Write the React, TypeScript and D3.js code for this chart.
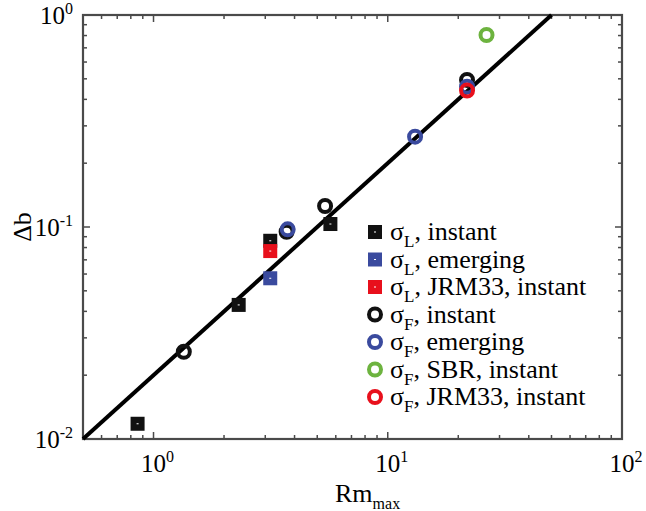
import React from "react";
import * as d3 from "d3";

const sLInstX = [0.855, 2.31, 3.15, 5.69];
const sLInstY = [0.0118, 0.0429, 0.0861, 0.1033];
const sLEmergX = [3.15];
const sLEmergY = [0.0573];
const sLJrmX = [3.15];
const sLJrmY = [0.077];
const sFInstX = [1.347, 3.7, 5.4, 21.8];
const sFInstY = [0.0258, 0.095, 0.1256, 0.494];
const sFEmergX = [3.74, 13.08, 21.8];
const sFEmergY = [0.0975, 0.2667, 0.459];
const sFSbrX = [26.4];
const sFSbrY = [0.805];
const sFJrmX = [21.8];
const sFJrmY = [0.44];

const fitCoef = 0.02;
const fitRange = [0.5, 50];

const xTickExps = [0, 1, 2];
const yTickExps = [-2, -1, 0];

const legendLabels = [
  { sym: "σ", sub: "L", rest: ", instant" },
  { sym: "σ", sub: "L", rest: ", emerging" },
  { sym: "σ", sub: "L", rest: ", JRM33, instant" },
  { sym: "σ", sub: "F", rest: ", instant" },
  { sym: "σ", sub: "F", rest: ", emerging" },
  { sym: "σ", sub: "F", rest: ", SBR, instant" },
  { sym: "σ", sub: "F", rest: ", JRM33, instant" },
];

const BLACK = "#111111";
const BLUE = "#3a4a9e";
const RED = "#e8101c";
const GREEN = "#6db33f";

const series = [
  { xs: sLInstX, ys: sLInstY, shape: "square", color: BLACK },
  { xs: sLEmergX, ys: sLEmergY, shape: "square", color: BLUE },
  { xs: sLJrmX, ys: sLJrmY, shape: "square", color: RED },
  { xs: sFInstX, ys: sFInstY, shape: "circle", color: BLACK },
  { xs: sFEmergX, ys: sFEmergY, shape: "circle", color: BLUE },
  { xs: sFSbrX, ys: sFSbrY, shape: "circle", color: GREEN },
  { xs: sFJrmX, ys: sFJrmY, shape: "circle", color: RED },
];

const L = 83, R = 622, T = 15, B = 439;
const AX = "#4a4a4a";
const FONT = "'Liberation Serif', 'Times New Roman', Times, serif";

function Marker({ shape, color, cx, cy }: any) {
  if (shape === "square") {
    return (
      <g>
        <rect x={cx - 7} y={cy - 7} width={14} height={14} fill={color} />
        <rect x={cx - 1} y={cy - 0.5} width={2} height={1} fill="#ffffff" />
      </g>
    );
  }
  return <circle cx={cx} cy={cy} r={6} fill="none" stroke={color} strokeWidth={4} />;
}

export default function App() {
  const x = d3.scaleLog().domain([0.5, 100]).range([L, R]);
  const y = d3.scaleLog().domain([0.01, 1]).range([B, T]);

  const majorX = xTickExps.map((e) => Math.pow(10, e));
  const majorY = yTickExps.map((e) => Math.pow(10, e));
  const minorX: number[] = [];
  for (let d = -1; d < 2; d++) for (let k = 2; k <= 9; k++) {
    const v = k * Math.pow(10, d);
    if (v > 0.5 && v < 100) minorX.push(v);
  }
  const minorY: number[] = [];
  for (let d = -2; d < 0; d++) for (let k = 2; k <= 9; k++) minorY.push(k * Math.pow(10, d));

  const line = d3.line<number>().x((v) => x(v)).y((v) => y(fitCoef * v));

  const legendX = 375;
  const legendY0 = 232;
  const legendDy = 27.5;

  return (
    <svg width={646} height={511} style={{ position: "absolute", left: 0, top: 0, background: "#fff", fontFamily: FONT }}>
      <rect width={646} height={511} fill="#fff" />
      <g stroke={AX} strokeWidth={1.5}>
        {minorX.map((v, i) => (
          <g key={"mx" + i}>
            <line x1={x(v)} x2={x(v)} y1={B} y2={B - 4} />
            <line x1={x(v)} x2={x(v)} y1={T} y2={T + 4} />
          </g>
        ))}
        {majorX.map((v, i) => (
          <g key={"Mx" + i}>
            <line x1={x(v)} x2={x(v)} y1={B} y2={B - 7} />
            <line x1={x(v)} x2={x(v)} y1={T} y2={T + 7} />
          </g>
        ))}
        {minorY.map((v, i) => (
          <g key={"my" + i}>
            <line x1={L} x2={L + 4} y1={y(v)} y2={y(v)} />
            <line x1={R} x2={R - 4} y1={y(v)} y2={y(v)} />
          </g>
        ))}
        {majorY.map((v, i) => (
          <g key={"My" + i}>
            <line x1={L} x2={L + 7} y1={y(v)} y2={y(v)} />
            <line x1={R} x2={R - 7} y1={y(v)} y2={y(v)} />
          </g>
        ))}
      </g>
      <rect x={L} y={T} width={R - L} height={B - T} fill="none" stroke={AX} strokeWidth={2.2} />

      <path d={line(fitRange) || ""} stroke="#000" strokeWidth={4} fill="none" />

      {series.map((s, si) =>
        s.xs.map((xv, i) => (
          <Marker key={si + "-" + i} shape={s.shape} color={s.color} cx={x(xv)} cy={y(s.ys[i])} />
        ))
      )}

      {xTickExps.map((e) => (
        <text key={"xl" + e} x={x(Math.pow(10, e)) + 4} y={472} fontSize={25} textAnchor="middle" fill="#000">
          10<tspan fontSize={16} dy={-10}>{e}</tspan>
        </text>
      ))}
      {yTickExps.map((e) => (
        <text key={"yl" + e} x={73} y={y(Math.pow(10, e)) + 9} fontSize={25} textAnchor="end" fill="#000">
          10<tspan fontSize={16} dy={-10}>{e < 0 ? "-" + Math.abs(e) : e}</tspan>
        </text>
      ))}

      <text x={335} y={502} fontSize={26} fill="#000">
        Rm<tspan fontSize={16} dy={7}>max</tspan>
      </text>
      <text transform={`translate(31, 227) rotate(-90)`} fontSize={26} textAnchor="middle" fill="#000">
        Δb
      </text>

      {legendLabels.map((lab, i) => {
        const cy = legendY0 + i * legendDy;
        const s = series[i];
        return (
          <g key={"lg" + i}>
            <Marker shape={s.shape} color={s.color} cx={legendX} cy={cy} />
            <text x={390} y={cy + 8} fontSize={26} fill="#000">
              {lab.sym}
              <tspan fontSize={17} dy={7}>{lab.sub}</tspan>
              <tspan dy={-7}>{lab.rest}</tspan>
            </text>
          </g>
        );
      })}
    </svg>
  );
}
